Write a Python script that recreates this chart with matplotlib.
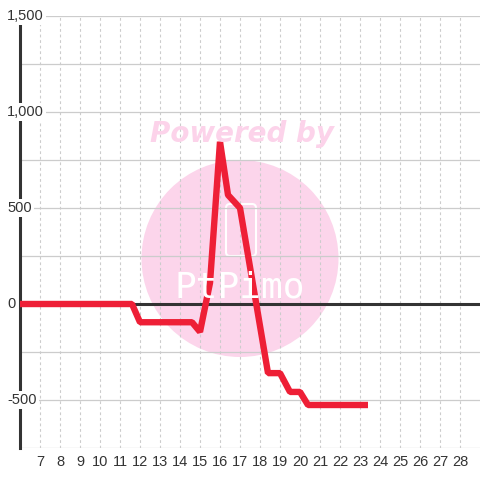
import numpy as np
import matplotlib
matplotlib.use("Agg")
from matplotlib import pyplot as plt
from matplotlib.patches import Circle, FancyBboxPatch

plt.rcParams["font.family"] = ["Liberation Sans", "DejaVu Sans"]

# values
x_pos = [6, 11.6, 12.0, 14.6, 15.0, 15.5, 16.0, 16.4, 17.0, 18.4, 19.0, 19.5, 20.0, 20.4, 23.4]
values = [0, 0, -95, -95, -145, 110, 845, 568, 500, -360, -360, -458, -458, -526, -526]
x_ticks = list(range(7, 29))
y_ticks = [-500, 0, 500, 1000, 1500]
y_grid = list(range(-750, 1501, 250))

fig = plt.figure(figsize=(4.8, 4.8), dpi=100)
ax = fig.add_axes([20 / 480, 32 / 480, 460 / 480, 432 / 480])
ax.set_xlim(6, 29)
ax.set_ylim(-750, 1500)

# watermark
circ = Circle((2.40, 2.215), 0.985, transform=fig.dpi_scale_trans,
              facecolor="#fcd5eb", edgecolor="none", zorder=0.1, clip_on=False)
ax.add_patch(circ)
logo = FancyBboxPatch((2.26, 2.24), 0.30, 0.52, boxstyle="round,pad=0,rounding_size=0.04",
                      transform=fig.dpi_scale_trans, facecolor="none", edgecolor="white",
                      lw=1.5, zorder=0.2, clip_on=False)
ax.add_patch(logo)
fig.text(240 / 480, (480 - 287) / 480, "PtPimo", color="white", fontsize=26,
         family="DejaVu Sans Mono", ha="center", va="center", zorder=0.2)
fig.text(242 / 480, (480 - 134) / 480, "Powered by", color="#fcd3ea", fontsize=20,
         family="DejaVu Sans", fontweight="bold", style="italic",
         ha="center", va="center", zorder=0.3)

ax.set_axisbelow(True)
ax.set_xticks(x_ticks)
ax.set_yticks(y_grid)
ax.set_yticklabels([])
ax.grid(axis="x", color="#cccccc", lw=0.8, linestyle=(0, (2.5, 2.5)))
ax.grid(axis="y", color="#cccccc", lw=0.9)
ax.tick_params(length=0, labelsize=10.5, labelcolor="#333333")
ax.tick_params(axis="x", pad=5)

for s in ["top", "right", "bottom"]:
    ax.spines[s].set_visible(False)
ax.spines["left"].set_color("#333333")
ax.spines["left"].set_linewidth(2.2)

ax.axhline(0, color="#333333", lw=2.2, zorder=2)
ax.plot(x_pos, values, color="#ee1f36", lw=4.6, solid_joinstyle="bevel",
        solid_capstyle="butt", zorder=3)

for v in y_ticks:
    ax.text(-13 / 460, v, f"{v:,}", transform=ax.get_yaxis_transform(),
            ha="left", va="center", fontsize=10.5, color="#333333", zorder=6,
            clip_on=False, bbox=dict(facecolor="white", edgecolor="none", pad=1.5))

fig.savefig("out.png", dpi=100)
